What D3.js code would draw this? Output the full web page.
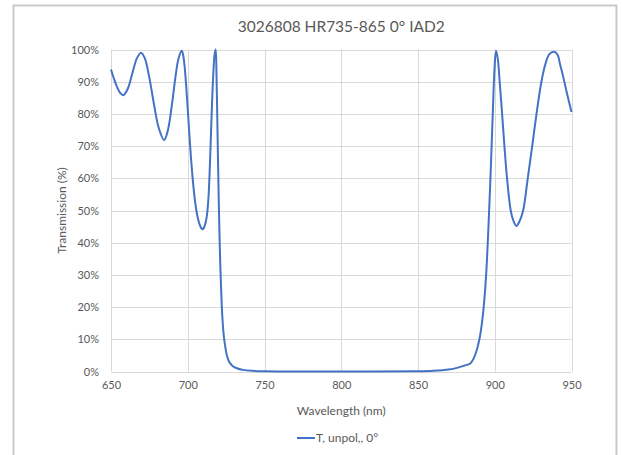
<!DOCTYPE html>
<html>
<head>
<meta charset="utf-8">
<script src="https://cdn.jsdelivr.net/npm/d3@7"></script>
<style>
  body { margin: 0; background: #fff; }
  text { font-family: Lato, "Open Sans", sans-serif; }
</style>
</head>
<body>
<svg id="chart"></svg>
<script>
// wavelength (nm) and transmission (%)
const wavelength = [650, 652, 654, 656, 658, 661, 664, 667, 669.6, 672, 675, 678, 681, 684.6, 687, 690, 692, 694, 696.1,
  697, 698, 699, 700, 701, 702, 703, 704, 705, 706, 707, 708, 709, 709.6,
  710.5, 711.5, 712.5, 713.5, 714.5, 715.5, 716.5, 717.5, 718.2,
  718.7, 719.2, 719.7, 720.2, 720.7, 721.2, 721.7, 722.2, 722.8, 723.5, 724.5, 725.5, 727, 729, 732, 736, 742, 750,
  800, 850, 860, 870, 876, 880, 884, 886, 888, 890, 891.5, 893, 894.5, 896, 897.5, 898.7, 899.8, 900.8,
  902, 903.2, 904.8, 906.3, 908, 910.4, 912, 914.1, 916, 918.5, 921.5, 924.4, 927.2, 930.4, 933, 935.5, 938.7,
  941, 942.5, 944.6, 947, 950];
const transmission = [93.8, 90.8, 88.3, 86.5, 85.8, 87.9, 92.8, 97.4, 99, 97.3, 91.2, 83, 75.8, 71.9, 74.8, 84, 91.5, 97.2, 99.6,
  98.3, 94.5, 88.5, 81.5, 74, 67, 61, 56, 52, 49, 46.8, 45.3, 44.4, 44.2,
  44.6, 46, 48.5, 54, 65, 79, 91, 98.5, 100,
  93, 80, 66, 53, 42, 33, 26, 20, 15, 11, 7.5, 5, 3, 1.8, 1, 0.5, 0.2, 0.05,
  0, 0.05, 0.2, 0.6, 1.2, 1.8, 2.5, 3.8, 6.2, 10, 14.5, 21, 31, 46, 64, 80, 93.5, 99.6,
  97, 90, 80, 70, 60, 50, 47, 45.2, 46.5, 50, 60, 70, 80, 90, 95.5, 98.5, 99.3,
  98.3, 95.5, 91.5, 86.5, 80.6];
const xTicks = [650, 700, 750, 800, 850, 900, 950];
const yTicks = [0, 10, 20, 30, 40, 50, 60, 70, 80, 90, 100];

const data = wavelength.map((w, i) => ({ w, t: transmission[i] }));

const width = 622, height = 455;
const margin = { top: 49.5, right: 50.5, bottom: 83.5, left: 111 };

const svg = d3.select("#chart")
  .attr("width", width)
  .attr("height", height);

// outer chart frame
svg.append("rect")
  .attr("x", 13.5).attr("y", 5.5)
  .attr("width", 603).attr("height", 460)
  .attr("fill", "#fff")
  .attr("stroke", "#c9c9c9")
  .attr("stroke-width", 2);

const x = d3.scaleLinear()
  .domain([650, 950])
  .range([margin.left, width - margin.right]);

const y = d3.scaleLinear()
  .domain([0, 100])
  .range([height - margin.bottom, margin.top]);

// gridlines
svg.append("g")
  .selectAll("line")
  .data(yTicks)
  .join("line")
  .attr("x1", x(650)).attr("x2", x(950))
  .attr("y1", d => Math.round(y(d)) + 0.5).attr("y2", d => Math.round(y(d)) + 0.5)
  .attr("stroke", "#d9d9d9");

svg.append("g")
  .selectAll("line")
  .data(xTicks)
  .join("line")
  .attr("x1", d => Math.round(x(d)) + 0.5).attr("x2", d => Math.round(x(d)) + 0.5)
  .attr("y1", y(0)).attr("y2", y(100))
  .attr("stroke", "#d9d9d9");

// axes labels
const yAxis = d3.axisLeft(y).tickValues(yTicks).tickFormat(d => d + "%").tickSize(0).tickPadding(12);
svg.append("g")
  .attr("transform", `translate(${margin.left},0)`)
  .call(yAxis)
  .call(g => g.select(".domain").remove())
  .call(g => g.selectAll("text").attr("fill", "#595959").style("font-size", "11px"));

const xAxis = d3.axisBottom(x).tickValues(xTicks).tickSize(0).tickPadding(10);
svg.append("g")
  .attr("transform", `translate(0,${y(0)})`)
  .call(xAxis)
  .call(g => g.select(".domain").remove())
  .call(g => g.selectAll("text").attr("fill", "#595959").style("font-size", "11px"));

// curve
const line = d3.line()
  .x(d => x(d.w))
  .y(d => y(Math.max(0, d.t)))
  .curve(d3.curveCatmullRom.alpha(0.5));

svg.append("path")
  .datum(data)
  .attr("d", line)
  .attr("fill", "none")
  .attr("stroke", "#4472c4")
  .attr("stroke-width", 2)
  .attr("stroke-linejoin", "round");

// title
svg.append("text")
  .attr("x", (x(650) + x(950)) / 2)
  .attr("y", 32)
  .attr("text-anchor", "middle")
  .attr("fill", "#595959")
  .style("font-size", "15.5px")
  .text("3026808 HR735-865 0° IAD2");

svg.append("text")
  .attr("x", (x(650) + x(950)) / 2)
  .attr("y", 415)
  .attr("text-anchor", "middle")
  .attr("fill", "#595959")
  .style("font-size", "12px")
  .text("Wavelength (nm)");

svg.append("text")
  .attr("transform", `translate(66,${(y(0) + y(100)) / 2}) rotate(-90)`)
  .attr("text-anchor", "middle")
  .attr("fill", "#595959")
  .style("font-size", "12px")
  .text("Transmission (%)");

// legend
const legend = svg.append("g").attr("transform", "translate(297,438)");
legend.append("line")
  .attr("x1", 0).attr("x2", 18)
  .attr("stroke", "#4472c4").attr("stroke-width", 2);
legend.append("text")
  .attr("x", 19).attr("dy", "0.35em")
  .attr("fill", "#595959")
  .style("font-size", "12px")
  .text("T, unpol,, 0°");
</script>
</body>
</html>
